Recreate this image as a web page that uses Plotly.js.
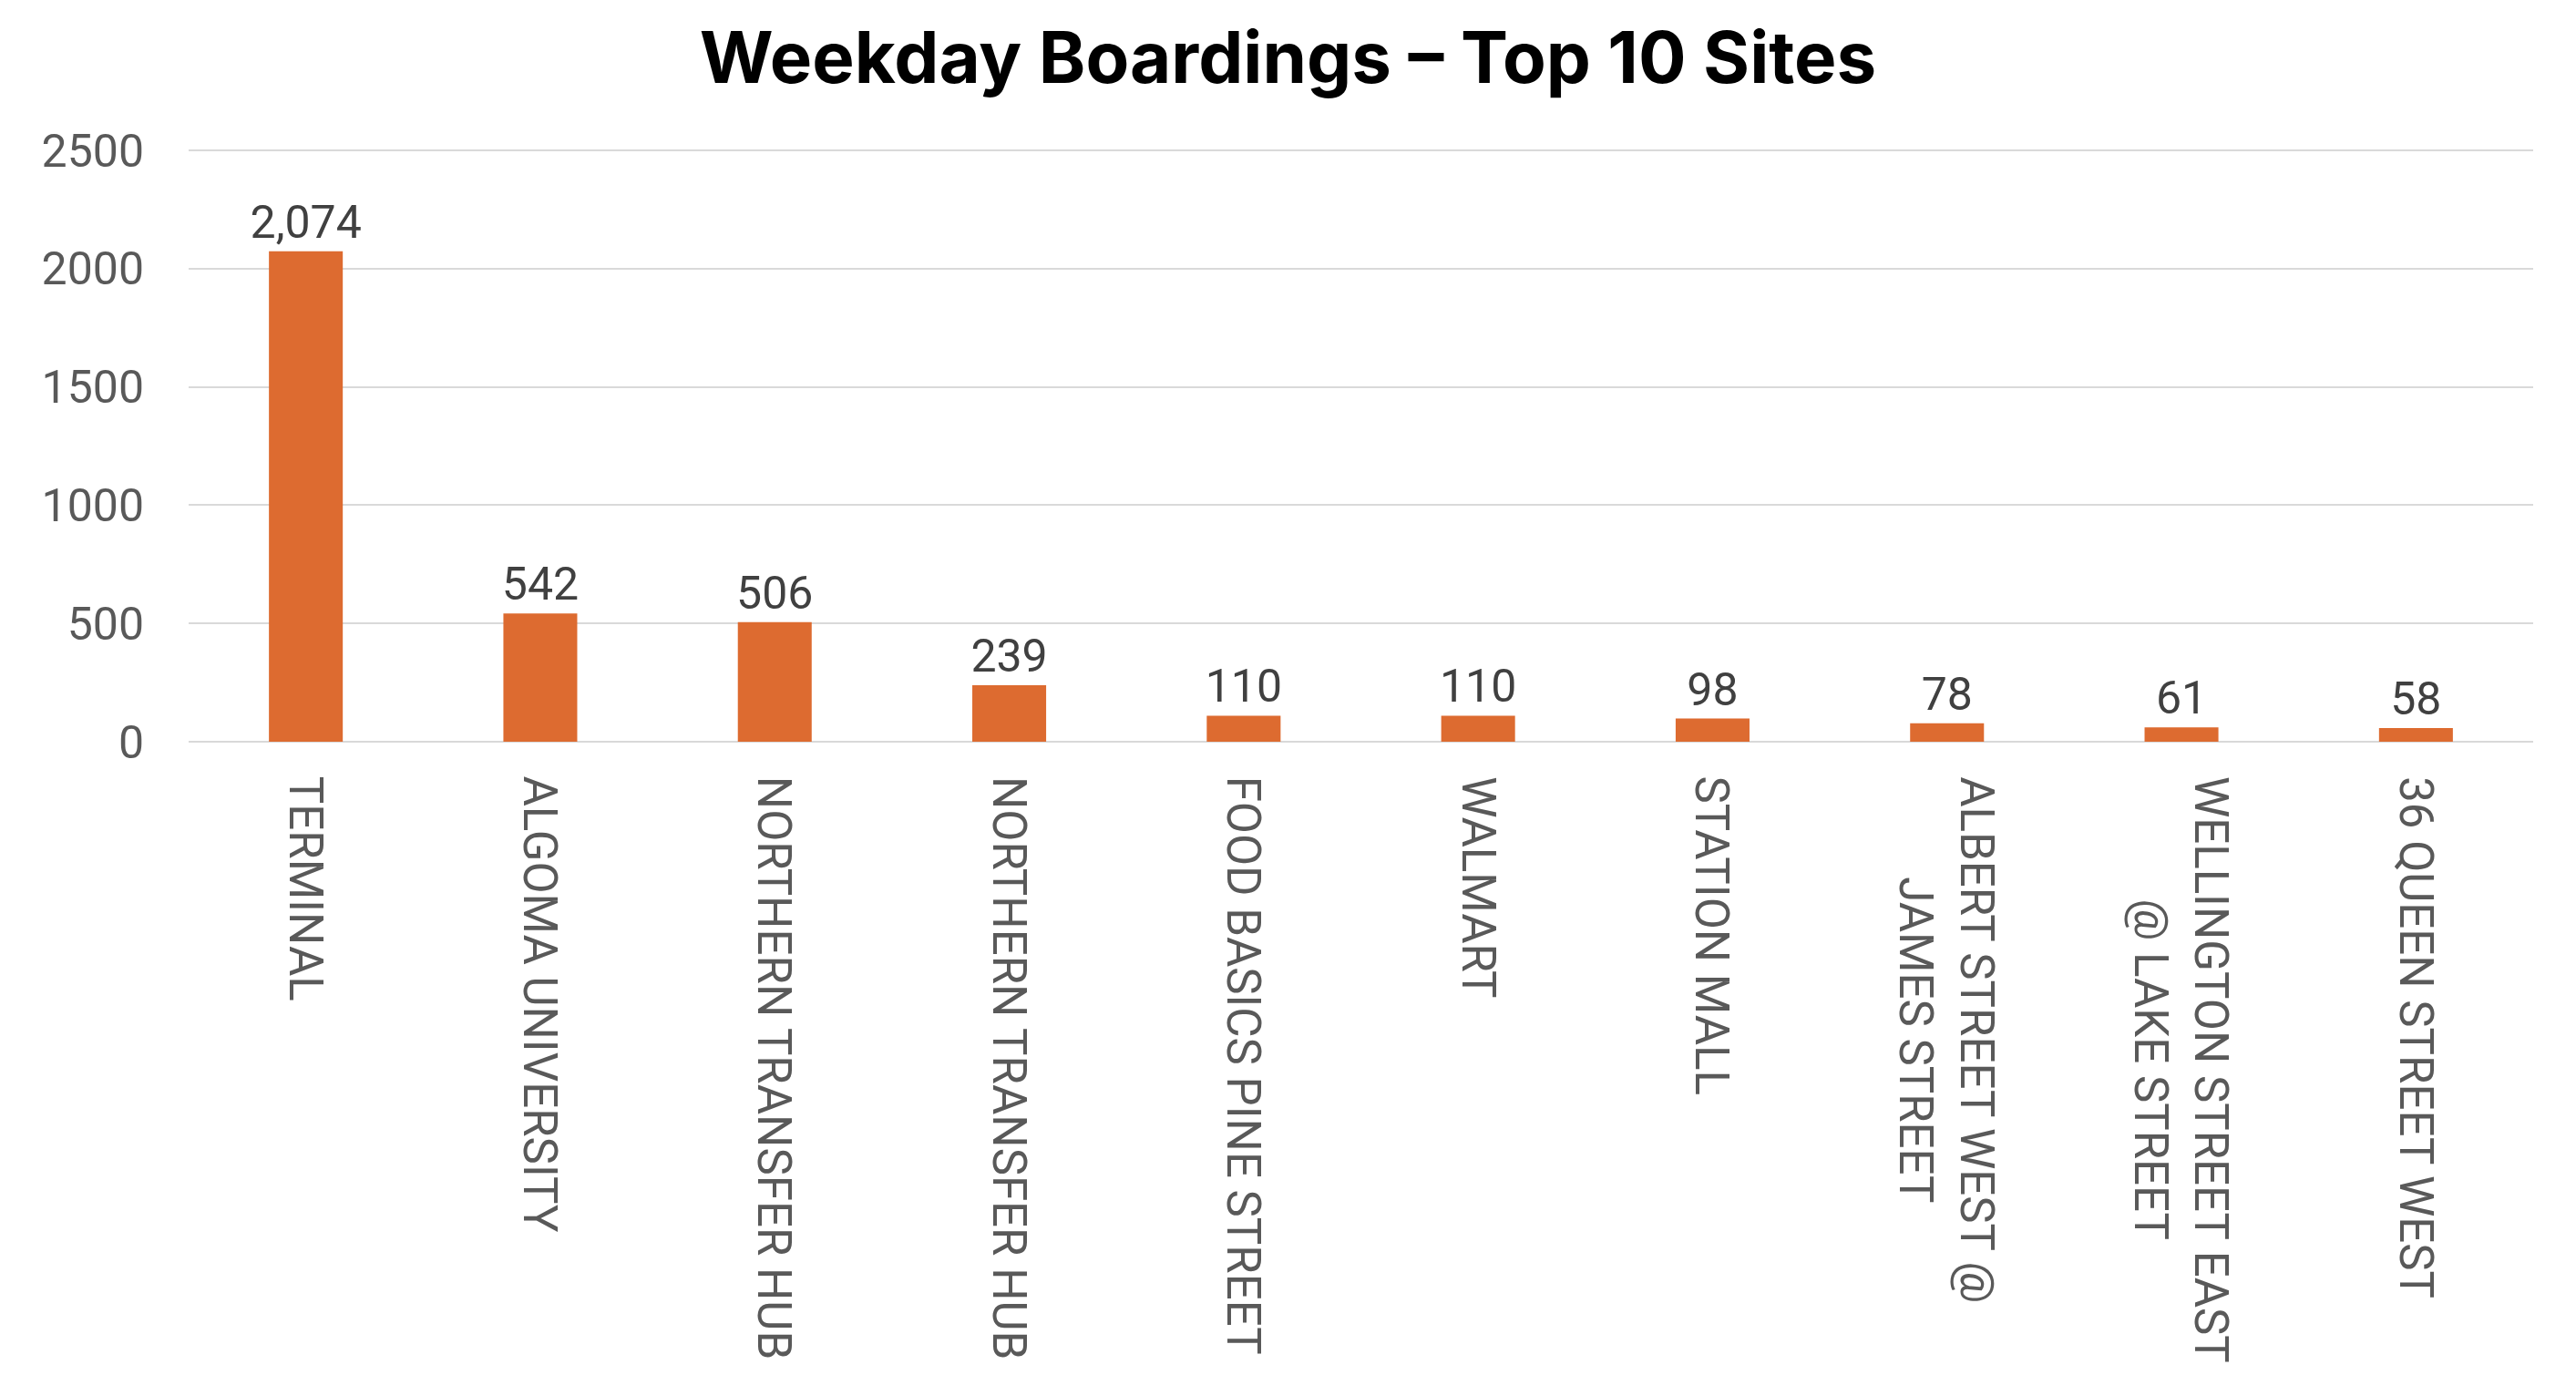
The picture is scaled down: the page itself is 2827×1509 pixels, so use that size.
<!DOCTYPE html>
<html>
<head>
<meta charset="utf-8">
<script src="https://cdn.plot.ly/plotly-3.0.1.min.js"></script>
<style>
  html, body { margin: 0; padding: 0; background: #fff; }
  #grafico { width: 2827px; height: 1509px; }
</style>
</head>
<body>
<div id="grafico"></div>
<script>
// Weekday boardings, top 10 sites
const sites = [
  'TERMINAL',
  'ALGOMA UNIVERSITY',
  'NORTHERN TRANSFER HUB',
  'NORTHERN TRANSFER HUB ',
  'FOOD BASICS PINE STREET',
  'WALMART',
  'STATION MALL',
  'ALBERT STREET WEST @<br>JAMES STREET',
  'WELLINGTON STREET EAST<br>@ LAKE STREET',
  '36 QUEEN STREET WEST'
];
const boardings = [2074, 542, 506, 239, 110, 110, 98, 78, 61, 58];
const yTicks = [0, 500, 1000, 1500, 2000, 2500];

const trace = {
  x: sites,
  y: boardings,
  type: 'bar',
  width: 0.315,
  marker: { color: '#DD6B30' },
  texttemplate: '%{y:,}',
  textposition: 'outside',
  constraintext: 'none',
  cliponaxis: false,
  outsidetextfont: { family: 'Roboto', size: 50, color: '#404040' },
  hoverinfo: 'none'
};

// category labels, rotated, lines centred like the original
const etiquetas = sites.map(s => ({
  x: s,
  xref: 'x',
  y: 0,
  yref: 'y',
  yshift: -36,
  yanchor: 'top',
  xanchor: 'center',
  textangle: 90,
  align: 'center',
  showarrow: false,
  text: s,
  font: { family: 'Roboto', size: 51, color: '#595959' }
}));

const layout = {
  width: 2827,
  height: 1509,
  margin: { l: 207, r: 47, t: 160, b: 695 },
  paper_bgcolor: '#ffffff',
  plot_bgcolor: '#ffffff',
  showlegend: false,
  title: {
    text: '<b>Weekday Boardings – Top 10 Sites</b>',
    font: { family: 'Inter', size: 78, color: '#000000' },
    x: 0.5,
    xref: 'container',
    y: 1 - 64 / 1509,
    yref: 'container',
    yanchor: 'middle'
  },
  font: { family: 'Roboto', color: '#595959' },
  xaxis: {
    type: 'category',
    showticklabels: false,
    ticks: '',
    showgrid: false,
    showline: false,
    zeroline: false
  },
  yaxis: {
    range: [0, 2520],
    tickvals: yTicks,
    ticktext: yTicks.map(String),
    ticks: '',
    showline: false,
    gridcolor: '#D9D9D9',
    gridwidth: 2,
    zeroline: true,
    zerolinecolor: '#D9D9D9',
    zerolinewidth: 2,
    ticklabelstandoff: 48,
    tickfont: { family: 'Roboto', size: 50, color: '#595959' }
  },
  annotations: etiquetas,
  bargap: 0.685
};

Plotly.newPlot('grafico', [trace], layout, { staticPlot: true });
</script>
</body>
</html>
